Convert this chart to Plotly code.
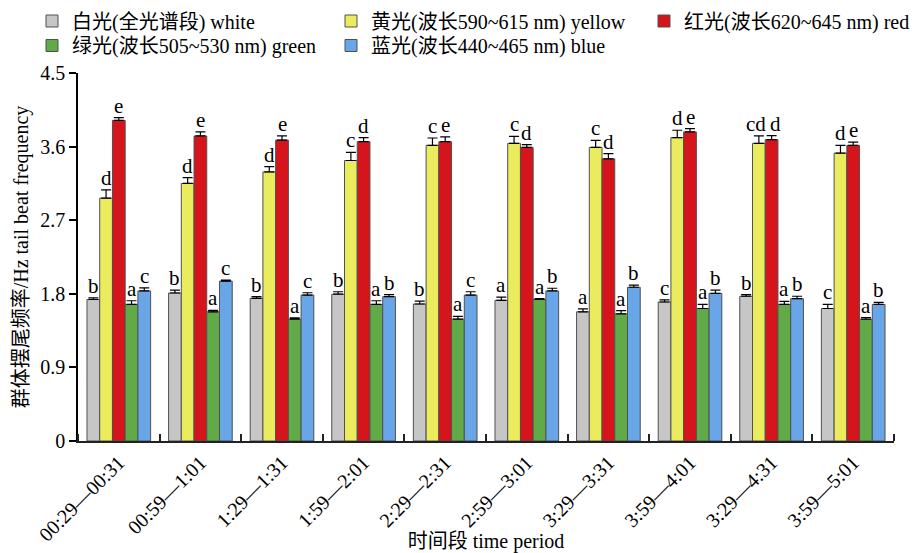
import plotly.graph_objects as go

# Time periods (x categories)
periods = ["00:29—00:31", "00:59—1:01", "1:29—1:31", "1:59—2:01", "2:29—2:31",
           "2:59—3:01", "3:29—3:31", "3:59—4:01", "3:29—4:31", "3:59—5:01"]

# Tail beat frequency (Hz), mean and SE per light treatment
white = [1.73, 1.81, 1.745, 1.795, 1.675, 1.72, 1.58, 1.70, 1.77, 1.62]
white_err = [0.02, 0.035, 0.02, 0.03, 0.035, 0.04, 0.035, 0.025, 0.02, 0.05]
yellow = [2.97, 3.15, 3.29, 3.43, 3.615, 3.64, 3.59, 3.71, 3.64, 3.52]
yellow_err = [0.10, 0.07, 0.065, 0.10, 0.09, 0.085, 0.085, 0.09, 0.09, 0.095]
red = [3.92, 3.73, 3.68, 3.66, 3.66, 3.59, 3.45, 3.78, 3.685, 3.615]
red_err = [0.035, 0.05, 0.05, 0.05, 0.06, 0.035, 0.065, 0.04, 0.05, 0.04]
green = [1.67, 1.58, 1.49, 1.67, 1.49, 1.73, 1.555, 1.62, 1.67, 1.49]
green_err = [0.045, 0.017, 0.016, 0.045, 0.033, 0.012, 0.04, 0.05, 0.037, 0.02]
blue = [1.835, 1.955, 1.785, 1.765, 1.785, 1.835, 1.88, 1.805, 1.74, 1.67]
blue_err = [0.037, 0.012, 0.028, 0.025, 0.04, 0.033, 0.025, 0.04, 0.03, 0.025]

# Significance letters
white_sig = ["b", "b", "b", "b", "b", "a", "a", "c", "b", "c"]
yellow_sig = ["d", "d", "d", "c", "c", "c", "c", "d", "cd", "d"]
red_sig = ["e", "e", "e", "d", "e", "d", "d", "e", "d", "e"]
green_sig = ["a", "a", "a", "a", "a", "a", "a", "a", "a", "a"]
blue_sig = ["c", "c", "c", "b", "c", "b", "b", "b", "b", "b"]

names = ["白光(全光谱段) white", "黄光(波长590~615 nm) yellow", "红光(波长620~645 nm) red",
         "绿光(波长505~530 nm) green", "蓝光(波长440~465 nm) blue"]
colors = ["#C6C6C6", "#EBEB5E", "#D6141B", "#60AA48", "#68A6E8"]

series = [(white, white_err, white_sig), (yellow, yellow_err, yellow_sig),
          (red, red_err, red_sig), (green, green_err, green_sig),
          (blue, blue_err, blue_sig)]

FONT = "Liberation Serif, Noto Sans CJK SC"
x = list(range(len(periods)))
w = 0.156
n = len(series)

# plot area in pixels (used to place the legend entries in paper units)
L, R, T, B = 78, 30, 73, 112
W, H = 924, 553
pw, ph = W - L - R, H - T - B


def paper_x(px):
    return (px - L) / pw


def paper_y(py):
    return (H - B - py) / ph


# one legend per entry: (left, top) in pixels
legend_pos = [(32, 1.5), (331, 1.5), (644, 1.5), (32, 26), (331, 26)]
legend_ids = ["legend", "legend2", "legend3", "legend4", "legend5"]

fig = go.Figure()
annotations = []
for k, (vals, errs, sig) in enumerate(series):
    fig.add_trace(go.Bar(
        x=x, y=vals, name=names[k], legend=legend_ids[k],
        width=w, offset=(k - n / 2) * w,
        marker=dict(color=colors[k], line=dict(color="#505050", width=1)),
        error_y=dict(type="data", array=errs, arrayminus=[0] * len(errs),
                     symmetric=False, color="black", thickness=1.2, width=5),
    ))
    for i, (v, e, s) in enumerate(zip(vals, errs, sig)):
        # nudge a label sideways when it sits next to a two-letter label
        nudge = 0
        if len(s) > 1:
            nudge = -3
        elif k > 0 and len(series[k - 1][2][i]) > 1:
            nudge = 4
        annotations.append(dict(
            x=i + (k - (n - 1) / 2) * w, y=v + e, text=s, showarrow=False,
            xref="x", yref="y", yanchor="bottom", yshift=-2, xshift=nudge,
            font=dict(family=FONT, size=21, color="black"),
        ))

legend_layout = {}
for lid, (lx, ly) in zip(legend_ids, legend_pos):
    legend_layout[lid] = dict(
        orientation="v", xref="paper", yref="paper",
        x=paper_x(lx), y=paper_y(ly), xanchor="left", yanchor="top",
        bgcolor="rgba(0,0,0,0)", font=dict(family=FONT, size=20, color="black"),
    )

fig.update_layout(
    width=W, height=H,
    margin=dict(l=L, r=R, t=T, b=B, autoexpand=False),
    paper_bgcolor="white", plot_bgcolor="white",
    barmode="overlay",
    showlegend=True,
    annotations=annotations,
    font=dict(family=FONT, size=19, color="black"),
    **legend_layout,
)

fig.update_xaxes(
    range=[-0.5, len(periods) - 0.5],
    tickvals=x, ticktext=periods, tickangle=-45, ticks="",
    tickfont=dict(family=FONT, size=20, color="black"),
    showline=True, linecolor="#222222", linewidth=2,
    showgrid=False, zeroline=False,
    minor=dict(tick0=0.5, dtick=1, ticks="inside", ticklen=7,
               tickcolor="#222222", tickwidth=1.5, showgrid=False),
    title=dict(text="时间段 time period", standoff=6,
               font=dict(family=FONT, size=20, color="black")),
)

fig.update_yaxes(
    range=[0, 4.5], tick0=0, dtick=0.9, ticks="outside", ticklen=7,
    tickcolor="black", tickwidth=1.5,
    tickfont=dict(family=FONT, size=20, color="black"),
    showline=True, linecolor="black", linewidth=1.5,
    showgrid=False, zeroline=False,
    title=dict(text="群体摆尾频率/Hz tail beat frequency", standoff=6,
               font=dict(family=FONT, size=20, color="black")),
)

fig.write_html("out.html")
